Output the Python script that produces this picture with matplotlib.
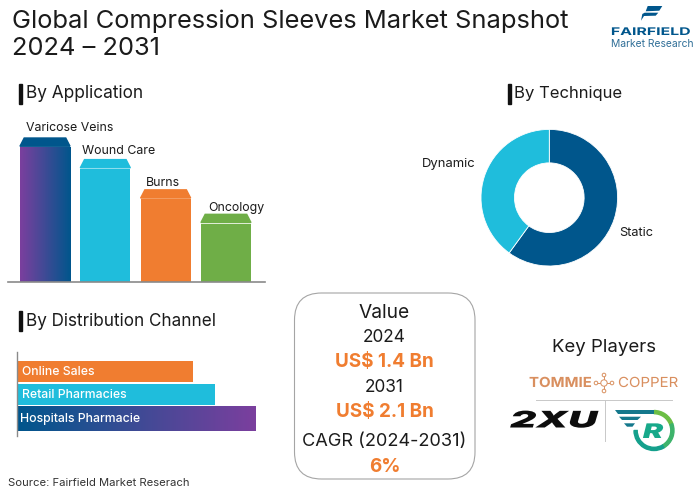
import numpy as np
import matplotlib
matplotlib.use("Agg")
import matplotlib.pyplot as plt
from matplotlib.patches import FancyBboxPatch, Polygon, Rectangle, Wedge, Circle
from matplotlib.colors import LinearSegmentedColormap
from matplotlib.patheffects import AbstractPathEffect
from matplotlib.transforms import Affine2D

# ---- data ----
app_labels = ["Varicose Veins", "Wound Care", "Burns", "Oncology"]
app_values = [100, 85, 64, 47]
tech_labels = ["Static", "Dynamic"]
tech_values = [60, 40]
dist_labels = ["Online Sales", "Retail Pharmacies", "Hospitals Pharmacie"]
dist_values = [74, 83, 100]
summary_lines = ["Value", "2024", "US$ 1.4 Bn", "2031", "US$ 2.1 Bn", "CAGR (2024-2031)", "6%"]

# ---- style ----
plt.rcParams["font.family"] = ["Inter", "DejaVu Sans"]
W, H = 700, 491
PURPLE, NAVY, CYAN, ORANGE, GREEN = "#7B3F9E", "#00568C", "#1FBDDC", "#F07D30", "#6FAE47"
TEXT = "#1b1b1b"
grad = LinearSegmentedColormap.from_list("g", [PURPLE, NAVY])

fig = plt.figure(figsize=(W / 100, H / 100), dpi=100, facecolor="white")


class Stretch(AbstractPathEffect):
    """Widen a logo's lettering about a fixed pixel column."""

    def __init__(self, sx, x0):
        self.sx, self.x0 = sx, x0

    def draw_path(self, renderer, gc, tpath, affine, rgbFace=None):
        t = affine + Affine2D().translate(-self.x0, 0).scale(self.sx, 1).translate(self.x0, 0)
        renderer.draw_path(gc, tpath, t, rgbFace)


def px_axes(x0, y0, x1, y1, **kw):
    return fig.add_axes([x0 / W, 1 - y1 / H, (x1 - x0) / W, (y1 - y0) / H], **kw)


# ---- By Application ----
ax = px_axes(8, 100, 265, 282)
xlim_app = (-0.613, 3.647)
ylim_app = (0, 126.4)
ax.axis("off")
bar_w = 0.829
cap_h = 6.4
cap_in = 0.07
app_colors = [None, CYAN, ORANGE, GREEN]
cap_colors = [NAVY, CYAN, ORANGE, GREEN]
for i, (v, c, cc) in enumerate(zip(app_values, app_colors, cap_colors)):
    body = v - cap_h
    x0, x1 = i - bar_w / 2, i + bar_w / 2
    if c is None:
        ax.imshow(np.linspace(0, 1, 128).reshape(1, -1), cmap=grad, aspect="auto",
                  extent=(x0, x1, 0, body), zorder=2)
    else:
        ax.bar(i, body, bar_w, color=c, zorder=2)
    ax.add_patch(Polygon([(x0, body + 0.7), (x1, body + 0.7), (x1 - cap_in, v), (x0 + cap_in, v)],
                         closed=True, color=cc, zorder=2))
ax.set_xlim(*xlim_app)
ax.set_ylim(*ylim_app)

# ---- By Technique ----
ax2 = px_axes(479.3, 127.7, 619.3, 267.7)
ax2.pie(tech_values, colors=[NAVY, CYAN], startangle=90, counterclock=False,
        radius=1.0, wedgeprops=dict(width=0.49, edgecolor="white", linewidth=0.6))
ax2.set_xlim(-70 / 68.3, 70 / 68.3)
ax2.set_ylim(-70 / 68.3, 70 / 68.3)

# ---- By Distribution Channel ----
ax3 = px_axes(16.5, 352, 255.5, 436)
ax3.axis("off")
dist_pos = [19.5, 42.5, 67]
dist_heights = [21, 21, 24.5]
dist_colors = [ORANGE, CYAN, None]
dist_text_x = [2.3, 2.3, 1.5]
for v, p, h, c, lab, tx in zip(dist_values, dist_pos, dist_heights, dist_colors, dist_labels, dist_text_x):
    if c is None:
        ax3.imshow(np.linspace(1, 0, 128).reshape(1, -1), cmap=grad, aspect="auto",
                   extent=(0, v, p + h / 2, p - h / 2), zorder=2)
    else:
        ax3.barh(p, v, h, color=c, zorder=2)
    ax3.text(tx, p + 0.3, lab, color="white", fontsize=8.8, fontweight="medium",
             va="center", ha="left", zorder=3)
ax3.set_xlim(0, 100)
ax3.set_ylim(84, 0)

# ---- overlay in pixel coordinates ----
ov = fig.add_axes([0, 0, 1, 1], facecolor="none")
ov.set_xlim(0, W)
ov.set_ylim(H, 0)
ov.axis("off")


def txt(x, y, s, size, color=TEXT, ha="left", weight="normal", sx=None, **kw):
    t = ov.text(x, y, s, fontsize=size, color=color, ha=ha, va="center", fontweight=weight, **kw)
    if sx:
        t.set_path_effects([Stretch(sx, x)])
    return t


txt(12, 21, "Global Compression Sleeves Market Snapshot", 18.35)
txt(12, 48, "2024 – 2031", 18.35)

for x, y, s, sz, gap in [(19, 93.5, "By Application", 12.4, 7), (508, 93.5, "By Technique", 12.0, 6),
                         (19, 321, "By Distribution Channel", 12.3, 7)]:
    ov.add_patch(Rectangle((x, y - 10), 3.3, 20, color="#111111"))
    txt(x + gap, y, s, sz)

ov.plot([8, 265], [282, 282], color="#8a8a8a", lw=1.2)
ov.plot([16.5, 16.5], [352, 436], color="#8a8a8a", lw=1.0)

for x, y, s in zip([26, 82, 146, 208], [128, 150.5, 182.5, 207.5], app_labels):
    txt(x, y, s, 8.9)
txt(619.5, 232.5, tech_labels[0], 9.2)
txt(422, 163.5, tech_labels[1], 9.4)

ov.add_patch(FancyBboxPatch((294.5, 293), 180.5, 186, boxstyle="round,pad=0,rounding_size=27",
                            fc="white", ec="#a5a5a5", lw=0.8))
ys = [312.5, 337.5, 362, 387, 412, 442, 466.5]
sizes = [13.8, 12.4, 13.6, 12.4, 13.6, 13.1, 13.6]
for i, (y, s, sz) in enumerate(zip(ys, summary_lines, sizes)):
    hi = i in (2, 4, 6)
    txt(384.5, y, s, sz, color=ORANGE if hi else TEXT, ha="center", weight="bold" if hi else "normal")

txt(8, 483, "Source: Fairfield Market Reserach", 8.1, color="#333333")

# Key players
COPPER = "#D98F5F"
txt(603.5, 347, "Key Players", 13.4, ha="center")
txt(529, 383, "TOMMIE", 10, color=COPPER, weight="bold", sx=1.08)
txt(618, 383, "COPPER", 10, color=COPPER, sx=1.08)
for dx, dy in [(-8, 0), (8, 0), (0, -8), (0, 8)]:
    ov.plot([604, 604 + dx], [383, 383 + dy], color=COPPER, lw=0.7)
    ov.add_patch(Circle((604 + dx, 383 + dy), 1.8, fc="white", ec=COPPER, lw=0.7, zorder=3))
ov.add_patch(Circle((604, 383), 3.2, fc="white", ec=COPPER, lw=0.7, zorder=3))
ov.plot([536, 672], [399.5, 399.5], color="#c8c8c8", lw=0.7)
ov.plot([604.5, 604.5], [400, 441], color="#c8c8c8", lw=0.7)
txt(510, 421.5, "2XU", 16.5, color="#0d0d0d", weight="black", style="italic", sx=1.77)

# R mark
ov.add_patch(Wedge((654, 430.5), 20, -90, -20, width=3.2, color="#6CBE45"))
ov.add_patch(Wedge((654, 430.5), 20, -20, 60, width=3.2, color="#3DB36B"))
ov.add_patch(Wedge((654, 430.5), 20, 60, 180, width=3.2, color="#14A08C"))
for pts, col in [([(615, 410), (654, 410), (654, 413.5), (643, 413.5), (618, 413.5)], "#14788C"),
                 ([(619, 416.7), (641, 416.7), (637.5, 420), (622, 420)], "#14788C"),
                 ([(624, 423.3), (635, 423.3), (632.5, 426.7), (627, 426.7)], "#14788C")]:
    ov.add_patch(Polygon(pts, closed=True, color=col, lw=0))
txt(653, 433, "R", 14.5, color="#17A98A", ha="center", weight="black", style="italic", sx=1.5)

# Fairfield logo
ov.add_patch(Polygon([(647.7, 6), (662.3, 6), (659.3, 10.7), (645.7, 11.3)], closed=True, color=NAVY, lw=0))
ov.add_patch(Polygon([(644.7, 12.7), (658.3, 12.7), (655.7, 15.7), (644, 16), (641, 20.7), (642.3, 14)],
                     closed=True, color=NAVY, lw=0))
txt(651, 32, "FAIRFIELD", 7.6, color=NAVY, ha="center", weight="bold", sx=1.5)
txt(652, 43.5, "Market Research", 7.4, color="#2F6E97", ha="center")

fig.savefig("out.png", dpi=100, facecolor="white")
